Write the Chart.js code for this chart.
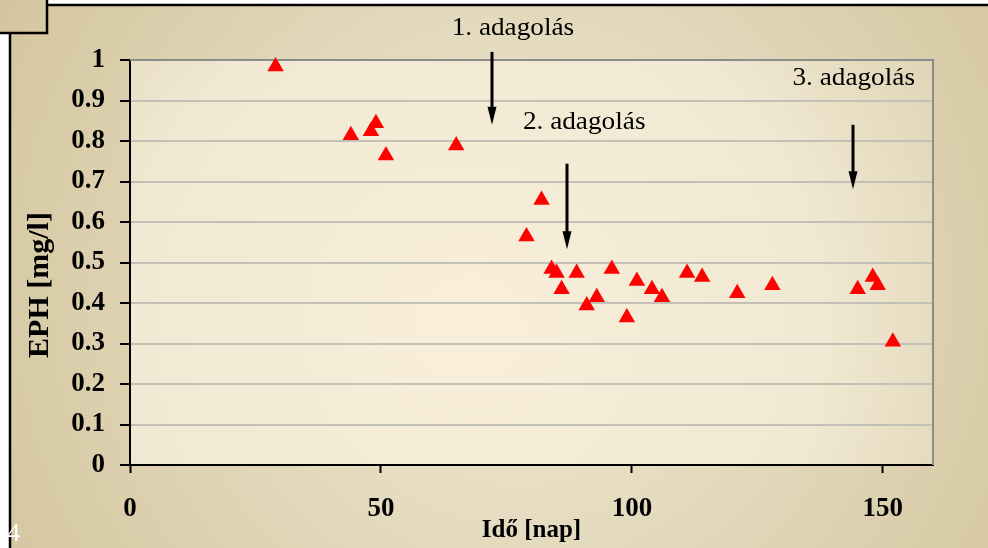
<!DOCTYPE html>
<html>
<head>
<meta charset="utf-8">
<script src="https://cdn.jsdelivr.net/npm/chart.js@4/dist/chart.umd.min.js"></script>
<style>
html,body{margin:0;padding:0;background:#fff;}
#wrap{position:relative;width:988px;height:548px;}
canvas{display:block;}
</style>
</head>
<body>
<div id="wrap"><canvas id="c" width="988" height="548"></canvas></div>
<script>
// ---- data ----
const days = [29, 44, 48, 49, 51, 65, 79, 82, 84, 85, 86, 89, 91, 93, 96, 99, 101, 104, 106, 111, 114, 121, 128, 145, 148, 149, 152];
const eph  = [0.99, 0.82, 0.83, 0.85, 0.77, 0.795, 0.57, 0.66, 0.49, 0.48, 0.44, 0.48, 0.40, 0.42, 0.49, 0.37, 0.46, 0.44, 0.42, 0.48, 0.47, 0.43, 0.45, 0.44, 0.47, 0.45, 0.31];
const xTickValues = [0, 50, 100, 150];
const yTickValues = [0, 0.1, 0.2, 0.3, 0.4, 0.5, 0.6, 0.7, 0.8, 0.9, 1];
const xTitle = 'Idő [nap]';
const yTitle = 'EPH [mg/l]';
// annotations: label text, label position, arrow x, arrow top, arrow tip (data units)
const annLabels = ['1. adagolás', '2. adagolás', '3. adagolás'];
const annLabelX = [76.3, 90.5, 144.2];
const annLabelY = [1.077, 0.847, 0.955];
const arrowX    = [72.1, 87.1, 144.0];
const arrowTop  = [1.02, 0.744, 0.84];
const arrowTip  = [0.84, 0.533, 0.681];

const points = days.map((d, i) => ({x: d, y: eph[i]}));

const serif = '"Liberation Serif", "Times New Roman", serif';
const markerR = 9.5;

// centre the triangle marker on its bounding box (Chart.js centres on centroid)
const markerShift = {
  id: 'markerShift',
  beforeDatasetsDraw(chart) { chart.ctx.save(); chart.ctx.translate(0, markerR / 4); },
  afterDatasetsDraw(chart) { chart.ctx.restore(); }
};

const bgPlugin = {
  id: 'bg',
  beforeDraw(chart) {
    const ctx = chart.ctx, W = chart.width, H = chart.height;
    const a = chart.chartArea;
    ctx.save();
    ctx.fillStyle = '#ffffff';
    ctx.fillRect(0, 0, W, H);
    // outer panel
    let g = ctx.createRadialGradient(520, 290, 40, 520, 290, 620);
    g.addColorStop(0, '#efe7d2');
    g.addColorStop(1, '#d2c49c');
    ctx.fillStyle = g;
    ctx.fillRect(10, 5, W - 10, H - 5);
    ctx.fillRect(0, 0, 47, 33);
    // plot area
    g = ctx.createRadialGradient(470, 330, 20, 470, 330, 560);
    g.addColorStop(0, '#f8eed9');
    g.addColorStop(0.6, '#f1e9d3');
    g.addColorStop(1, '#ddd2b2');
    ctx.fillStyle = g;
    ctx.fillRect(a.left, a.top, a.right - a.left, a.bottom - a.top);
    // frame lines
    ctx.strokeStyle = '#000';
    ctx.lineWidth = 2.5;
    ctx.beginPath();
    ctx.moveTo(47, 5); ctx.lineTo(W, 5);
    ctx.moveTo(10, 33); ctx.lineTo(10, H);
    ctx.moveTo(47, 0); ctx.lineTo(47, 33); ctx.lineTo(0, 33);
    ctx.stroke();
    // y-axis title
    ctx.fillStyle = '#000';
    ctx.font = 'bold 30px ' + serif;
    ctx.textAlign = 'center';
    ctx.textBaseline = 'middle';
    ctx.translate(40, 285);
    ctx.rotate(-Math.PI / 2);
    ctx.fillText(yTitle, 0, 0);
    ctx.restore();
  },
  beforeDatasetsDraw(chart) {
    const ctx = chart.ctx, a = chart.chartArea;
    ctx.save();
    // top/right gray border
    ctx.strokeStyle = '#8c8c8c';
    ctx.lineWidth = 2;
    ctx.beginPath();
    ctx.moveTo(a.left, a.top); ctx.lineTo(a.right, a.top); ctx.lineTo(a.right, a.bottom);
    ctx.stroke();
    ctx.restore();
  },
  afterDraw(chart) {
    const ctx = chart.ctx;
    const xs = chart.scales.x, ys = chart.scales.y;
    ctx.save();
    // arrows
    ctx.strokeStyle = '#000';
    ctx.fillStyle = '#000';
    ctx.lineWidth = 3;
    for (let i = 0; i < arrowX.length; i++) {
      const px = Math.round(xs.getPixelForValue(arrowX[i]));
      const y0 = ys.getPixelForValue(arrowTop[i]);
      const y1 = ys.getPixelForValue(arrowTip[i]);
      ctx.beginPath();
      ctx.moveTo(px, y0); ctx.lineTo(px, y1 - 12);
      ctx.stroke();
      ctx.beginPath();
      ctx.moveTo(px - 4.5, y1 - 18);
      ctx.lineTo(px + 4.5, y1 - 18);
      ctx.lineTo(px, y1);
      ctx.closePath();
      ctx.fill();
    }
    // labels
    ctx.font = '25px ' + serif;
    ctx.textAlign = 'center';
    ctx.textBaseline = 'middle';
    ctx.fillStyle = '#000';
    for (let i = 0; i < annLabels.length; i++) {
      ctx.save();
      ctx.translate(xs.getPixelForValue(annLabelX[i]), ys.getPixelForValue(annLabelY[i]));
      ctx.scale(1.09, 1);
      ctx.fillText(annLabels[i], 0, 0);
      ctx.restore();
    }
    // page number
    ctx.font = '26px ' + serif;
    ctx.textAlign = 'left';
    ctx.textBaseline = 'alphabetic';
    ctx.fillStyle = '#ffffff';
    ctx.fillText('4', 7, 541);
    ctx.restore();
  }
};

const tickFont = {family: serif, size: 27, weight: 'bold'};
const titleFont = {family: serif, size: 25, weight: 'bold'};

new Chart(document.getElementById('c'), {
  type: 'scatter',
  data: {
    datasets: [{
      data: points,
      pointStyle: 'triangle',
      pointRadius: markerR,
      pointHoverRadius: markerR,
      backgroundColor: '#ff0000',
      borderColor: '#ff0000',
      borderWidth: 0,
      clip: false
    }]
  },
  options: {
    responsive: false,
    animation: false,
    events: [],
    layout: {padding: {left: 0, top: 60, right: 55, bottom: 0}},
    plugins: {legend: {display: false}, tooltip: {enabled: false}},
    scales: {
      x: {
        type: 'linear',
        min: 0, max: 160,
        afterBuildTicks(s) { s.ticks = xTickValues.map(v => ({value: v})); },
        afterFit(s) { s.height = 83; },
        ticks: {font: tickFont, color: '#000', padding: 20, maxRotation: 0,
                callback: v => String(v)},
        grid: {drawOnChartArea: false, drawTicks: true, tickLength: 8, tickColor: '#000', tickWidth: 2},
        border: {display: true, color: '#000', width: 2},
        title: {display: true, text: xTitle, font: titleFont, color: '#000', padding: {top: 0, bottom: 2}}
      },
      y: {
        type: 'linear',
        min: 0, max: 1,
        afterBuildTicks(s) { s.ticks = yTickValues.map(v => ({value: v})); },
        afterFit(s) { s.width = 130; },
        ticks: {font: tickFont, color: '#000', padding: 15,
                callback: v => String(Math.round(v * 10) / 10)},
        grid: {color: '#c3c0b8', lineWidth: 2, drawTicks: true, tickLength: 10, tickColor: '#000', tickWidth: 2},
        border: {display: true, color: '#000', width: 2},
        title: {display: false}
      }
    }
  },
  plugins: [bgPlugin, markerShift]
});
</script>
</body>
</html>
